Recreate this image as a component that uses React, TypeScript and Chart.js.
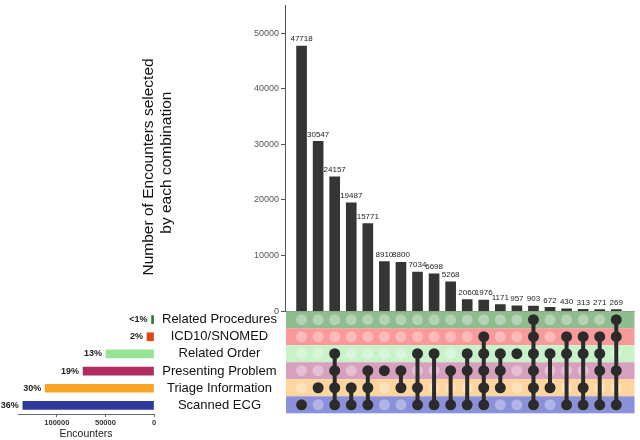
import React, { useEffect, useRef } from "react";
import Chart from "chart.js/auto";

// ---- Data ----
const setNames = ["Related Procedures", "ICD10/SNOMED", "Related Order", "Presenting Problem", "Triage Information", "Scanned ECG"];
const setSizes = [2500, 7200, 49500, 73000, 112000, 135000];
const setPercents = ["<1%", "2%", "13%", "19%", "30%", "36%"];
const setColors = ["#1f7a1f", "#e5421d", "#96e496", "#ae2c60", "#f5a424", "#2d3a9b"];
const bandColors = ["#8fbd8f", "#f99a9a", "#c8f2c8", "#d8a0bf", "#fdd59d", "#8a91da"];

const comboCounts = [47718, 30547, 24157, 19487, 15771, 8910, 8800, 7034, 6698, 5268, 2060, 1976, 1171, 957, 903, 672, 430, 313, 271, 269];
// set indices: 0 Related Procedures, 1 ICD10/SNOMED, 2 Related Order, 3 Presenting Problem, 4 Triage Information, 5 Scanned ECG
const comboMembers = [
  [5], [4], [2, 3, 4, 5], [4, 5], [3, 4, 5], [3], [3, 4], [2, 4, 5], [2, 5], [3, 5],
  [2, 3, 5], [1, 2, 3, 4, 5], [2, 3, 4], [2], [0, 1, 2, 3, 4, 5], [2, 4], [1, 2, 5], [1, 2, 4, 5], [1, 2, 3, 5], [0, 1, 3, 5],
];
const countAxisMax = 55000;
const countTicks = [0, 10000, 20000, 30000, 40000, 50000];
const sizeAxisMax = 140000;
const sizeTicks = [0, 50000, 100000];
const countTitle = ["Number of Encounters selected    ", "by each combination  "];

const FONT = "'Liberation Sans', Arial, Helvetica, sans-serif";
const DOT = "#2b2b2b";

function MainChart() {
  const ref = useRef<HTMLCanvasElement>(null);
  useEffect(() => {
    Chart.defaults.font.family = FONT;
    const n = comboCounts.length;
    const inactive: any[] = [];
    for (let c = 0; c < n; c++) for (let r = 0; r < setNames.length; r++) inactive.push({ x: c, y: r });
    const active = comboMembers.flatMap((m, c) => m.map((r) => ({ x: c, y: r })));
    const lineSets: any[] = [];
    comboMembers.forEach((m, c) => {
      if (m.length > 1) {
        lineSets.push({
          type: "line",
          data: [{ x: c, y: Math.min(...m) }, { x: c, y: Math.max(...m) }],
          yAxisID: "yM",
          borderColor: DOT,
          borderWidth: 4,
          pointRadius: 0,
          fill: false,
          order: 1,
        });
      }
    });

    const bandPlugin = {
      id: "bands",
      beforeDatasetsDraw(chart: any) {
        const { ctx, chartArea } = chart;
        const yM = chart.scales.yM;
        ctx.save();
        bandColors.forEach((col, i) => {
          const t = yM.getPixelForValue(i - 0.5);
          const b = yM.getPixelForValue(i + 0.5);
          ctx.fillStyle = col;
          ctx.fillRect(chartArea.left + 1, t, chartArea.right - chartArea.left - 1, b - t);
        });
        ctx.restore();
      },
    };
    const valuePlugin = {
      id: "values",
      afterDatasetsDraw(chart: any) {
        const { ctx } = chart;
        const meta = chart.getDatasetMeta(0);
        ctx.save();
        ctx.font = `8px ${FONT}`;
        ctx.fillStyle = "#222";
        ctx.textAlign = "center";
        ctx.textBaseline = "bottom";
        meta.data.forEach((el: any, i: number) => {
          ctx.fillText(String(comboCounts[i]), el.x, el.y - 3);
        });
        ctx.restore();
      },
    };

    const chart = new Chart(ref.current!, {
      type: "bar",
      data: {
        datasets: [
          {
            type: "bar",
            data: comboCounts.map((v, i) => ({ x: i, y: v })),
            backgroundColor: "#353535",
            barThickness: 10,
            yAxisID: "y",
            order: 3,
          } as any,
          {
            type: "scatter",
            data: active,
            yAxisID: "yM",
            pointRadius: 5.5,
            pointBackgroundColor: DOT,
            pointBorderWidth: 0,
            order: 0,
          },
          ...lineSets,
          {
            type: "scatter",
            data: inactive,
            yAxisID: "yM",
            pointRadius: 5.5,
            pointBackgroundColor: "rgba(255,255,255,0.33)",
            pointBorderWidth: 0,
            order: 2,
          },
        ],
      },
      options: {
        responsive: false,
        animation: false,
        events: [],
        layout: { padding: { left: 136, right: 3, top: 3, bottom: 26.7 } },
        plugins: { legend: { display: false }, tooltip: { enabled: false } },
        scales: {
          x: { type: "linear", display: false, offset: false, grid: { offset: false }, min: -1, max: 20.1 },
          yM: {
            type: "linear",
            position: "left",
            stack: "upset",
            stackWeight: 102.8,
            min: -0.5,
            max: 5.5,
            reverse: true,
            ticks: { display: false },
            grid: { display: false },
            border: { display: false },
            afterFit: (s: any) => {
              s.width = 149;
            },
          } as any,
          y: {
            type: "linear",
            position: "left",
            stack: "upset",
            stackWeight: 307.5,
            min: 0,
            max: countAxisMax,
            afterBuildTicks: (s: any) => {
              s.ticks = countTicks.map((v) => ({ value: v }));
            },
            ticks: { font: { size: 9, lineHeight: 0.2 }, color: "#555", padding: 2, callback: (v: any) => String(v) },
            grid: {
              color: (c: any) => (c.tick && c.tick.value === 0 ? "#333" : "rgba(0,0,0,0)"),
              tickColor: "#555",
              tickLength: 4,
              drawOnChartArea: true,
            },
            border: { display: true, color: "#555" },
            title: {
              display: true,
              text: countTitle,
              font: { size: 15.5, lineHeight: 1.13 },
              color: "#111",
              padding: { top: 4, bottom: 0 },
            },
            afterFit: (s: any) => {
              s.width = 149;
            },
          } as any,
        },
      },
      plugins: [bandPlugin, valuePlugin],
    });
    return () => chart.destroy();
  }, []);
  return <canvas ref={ref} width={640} height={440} style={{ position: "absolute", left: 0, top: 0 }} />;
}

function SetSizeChart() {
  const ref = useRef<HTMLCanvasElement>(null);
  useEffect(() => {
    Chart.defaults.font.family = FONT;
    const pctPlugin = {
      id: "pct",
      afterDatasetsDraw(chart: any) {
        const { ctx } = chart;
        const meta = chart.getDatasetMeta(0);
        ctx.save();
        ctx.font = `bold 9px ${FONT}`;
        ctx.fillStyle = "#222";
        ctx.textAlign = "right";
        ctx.textBaseline = "middle";
        meta.data.forEach((el: any, i: number) => {
          ctx.fillText(setPercents[i], Math.min(el.x, el.base) - 4, el.y);
        });
        ctx.restore();
      },
    };
    const chart = new Chart(ref.current!, {
      type: "bar",
      data: {
        labels: setNames,
        datasets: [{ data: setSizes, backgroundColor: setColors, barThickness: 8 }],
      },
      options: {
        indexAxis: "y",
        responsive: false,
        animation: false,
        events: [],
        layout: { padding: { left: 18, top: 311, right: 0, bottom: 0 } },
        plugins: { legend: { display: false }, tooltip: { enabled: false } },
        scales: {
          x: {
            type: "linear",
            reverse: true,
            min: 0,
            max: sizeAxisMax,
            position: "bottom",
            afterBuildTicks: (s: any) => {
              s.ticks = sizeTicks.map((v) => ({ value: v }));
            },
            ticks: { font: { size: 7.5, weight: "bold" }, color: "#333", padding: 1, maxRotation: 0, callback: (v: any) => String(v) },
            grid: { drawOnChartArea: false, tickLength: 3, tickColor: "#666" },
            border: { color: "#666" },
            title: { display: true, text: "Encounters", font: { size: 10.5 }, color: "#222", padding: { top: 0, bottom: 0 } },
            afterFit: (s: any) => {
              s.height = 26;
            },
          } as any,
          y: {
            type: "category",
            position: "right",
            ticks: { font: { size: 13 }, color: "#111", crossAlign: "center", padding: 8, autoSkip: false },
            grid: { display: false, drawTicks: false },
            border: { display: false },
            afterFit: (s: any) => {
              s.width = 131;
            },
          } as any,
        },
      },
      plugins: [pctPlugin],
    });
    return () => chart.destroy();
  }, []);
  return <canvas ref={ref} width={285} height={440} style={{ position: "absolute", left: 0, top: 0 }} />;
}

export default function App() {
  return (
    <div style={{ position: "fixed", left: 0, top: 0, width: 640, height: 440, background: "#fff", overflow: "hidden" }}>
      <MainChart />
      <SetSizeChart />
    </div>
  );
}
